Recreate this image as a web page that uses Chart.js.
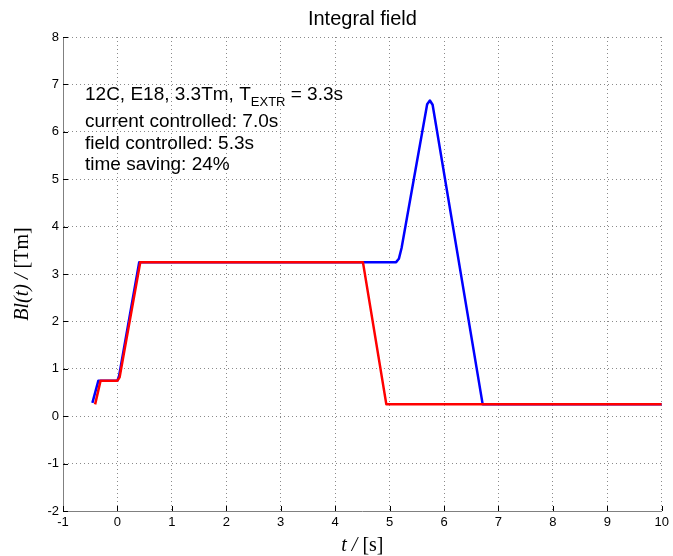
<!DOCTYPE html>
<html><head><meta charset="utf-8">
<script src="https://cdn.jsdelivr.net/npm/chart.js@4.4.1/dist/chart.umd.min.js"></script>
<style>html,body{margin:0;padding:0;background:#fff;} #wrap{width:673px;height:556px;}</style>
</head><body><div id="wrap"><canvas id="c" width="673" height="556"></canvas></div>
<script>
// ---- data ----
const redT  = [-0.41, -0.31, 0.00, 0.04, 0.42, 4.51, 4.94, 10.0];
const redB  = [ 0.25,  0.75, 0.75, 0.82, 3.25, 3.25, 0.25, 0.25];
const blueT = [-0.46, -0.35, 0.00, 0.03, 0.40, 5.12, 5.17, 5.22, 5.69, 5.74, 5.79, 6.71, 10.0];
const blueB = [ 0.28,  0.75, 0.75, 0.85, 3.25, 3.25, 3.32, 3.55, 6.58, 6.66, 6.57, 0.25, 0.25];
const xTickValues = [-1, 0, 1, 2, 3, 4, 5, 6, 7, 8, 9, 10];
const yTickValues = [-2, -1, 0, 1, 2, 3, 4, 5, 6, 7, 8];
const titleText = 'Integral field';
const noteLine1 = ['12C, E18, 3.3Tm, T', 'EXTR', ' = 3.3s'];
const noteLines = ['current controlled: 7.0s', 'field controlled: 5.3s', 'time saving: 24%'];
const xTitle = ['t / ', '[s]'];
const yTitle = ['Bl(t) / ', '[Tm]'];

const pts = (t, b) => t.map((v, i) => ({x: v, y: b[i]}));

const SANS = '"Liberation Sans", Arial, sans-serif';
const SERIF = '"Liberation Serif", "Times New Roman", serif';

function drawRuns(ctx, runs, x, y, align) {
  let total = 0;
  runs.forEach(r => { ctx.font = r.f; r.w = ctx.measureText(r.t).width; total += r.w; });
  let cx = align === 'center' ? x - total / 2 : x;
  ctx.textAlign = 'left';
  runs.forEach(r => { ctx.font = r.f; ctx.fillText(r.t, cx, y + (r.dy || 0)); cx += r.w; });
}

const deco = {
  id: 'deco',
  afterDraw(chart) {
    const {ctx, chartArea: a, scales: {x, y}} = chart;
    ctx.save();
    // inward tick marks
    ctx.strokeStyle = '#000';
    ctx.lineWidth = 1;
    xTickValues.forEach(v => {
      const px = Math.round(x.getPixelForValue(v)) + 0.5;
      ctx.beginPath(); ctx.moveTo(px, a.bottom); ctx.lineTo(px, a.bottom - 5); ctx.stroke();
    });
    yTickValues.forEach(v => {
      const py = Math.round(y.getPixelForValue(v)) + 0.5;
      ctx.beginPath(); ctx.moveTo(a.left, py); ctx.lineTo(a.left + 5, py); ctx.stroke();
    });
    ctx.fillStyle = '#000';
    ctx.textBaseline = 'alphabetic';
    // title
    ctx.font = '20px ' + SANS;
    ctx.textAlign = 'center';
    ctx.fillText(titleText, (a.left + a.right) / 2, 25);
    // annotation
    drawRuns(ctx, [
      {t: noteLine1[0], f: '19px ' + SANS},
      {t: noteLine1[1], f: '13px ' + SANS, dy: 6},
      {t: noteLine1[2], f: '19px ' + SANS}
    ], 85, 100, 'left');
    const base = [127, 149, 170];
    noteLines.forEach((s, i) => drawRuns(ctx, [{t: s, f: '19px ' + SANS}], 85, base[i], 'left'));
    // x title
    drawRuns(ctx, [
      {t: xTitle[0], f: 'italic 20px ' + SERIF},
      {t: xTitle[1], f: '20px ' + SERIF}
    ], (a.left + a.right) / 2, 551, 'center');
    // y title
    ctx.save();
    ctx.translate(28, (a.top + a.bottom) / 2);
    ctx.rotate(-Math.PI / 2);
    drawRuns(ctx, [
      {t: yTitle[0], f: 'italic 20px ' + SERIF},
      {t: yTitle[1], f: '20px ' + SERIF}
    ], 0, 0, 'center');
    ctx.restore();
    ctx.restore();
  }
};

new Chart(document.getElementById('c'), {
  type: 'line',
  data: {
    datasets: [
      {data: pts(redT, redB), borderColor: '#ff0000', borderWidth: 2.5, pointRadius: 0, tension: 0, fill: false, borderJoinStyle: 'round'},
      {data: pts(blueT, blueB), borderColor: '#0000ff', borderWidth: 2.5, pointRadius: 0, tension: 0, fill: false, borderJoinStyle: 'round'}
    ]
  },
  options: {
    responsive: false,
    animation: false,
    layout: {padding: {top: 37, right: 10, left: 0, bottom: 0}},
    plugins: {legend: {display: false}, tooltip: {enabled: false}, title: {display: false}},
    scales: {
      x: {
        type: 'linear', min: -1, max: 10,
        afterBuildTicks: s => { s.ticks = xTickValues.map(v => ({value: v})); },
        afterFit: s => { s.height = 45; },
        ticks: {font: {family: SANS, size: 13}, color: '#000', padding: 4, autoSkip: false, maxRotation: 0},
        grid: {color: '#8a8a8a', drawTicks: false, lineWidth: 1},
        border: {display: true, color: '#808080', width: 1, dash: [1, 3]}
      },
      y: {
        type: 'linear', min: -2, max: 8,
        afterBuildTicks: s => { s.ticks = yTickValues.map(v => ({value: v})); },
        afterFit: s => { s.width = 63; },
        ticks: {font: {family: SANS, size: 13}, color: '#000', padding: 4, autoSkip: false},
        grid: {color: '#8a8a8a', drawTicks: false, lineWidth: 1},
        border: {display: true, color: '#808080', width: 1, dash: [1, 3]}
      }
    }
  },
  plugins: [deco]
});
</script>
</body></html>
